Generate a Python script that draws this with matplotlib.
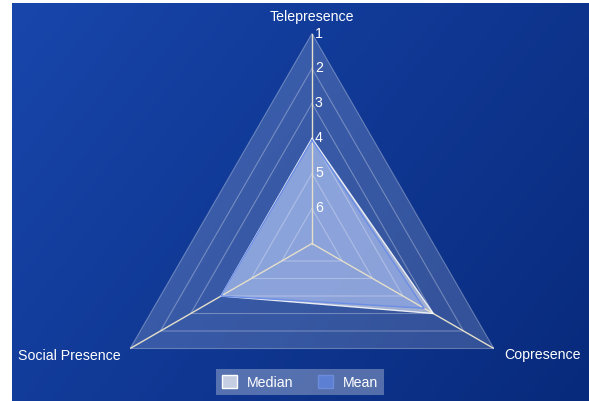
import numpy as np
import matplotlib.pyplot as plt
from matplotlib.patches import Patch
from matplotlib.colors import to_rgb

plt.rcParams['font.family'] = ['Liberation Sans', 'DejaVu Sans']

# radar data, scale runs 1 (outer) .. 7 (centre)
axis_names = ['Telepresence', 'Copresence', 'Social Presence']
median = [4, 3, 4]
mean = [4.05, 3.3, 4.0]
levels = [1, 2, 3, 4, 5, 6]

W, H = 589, 402
fig = plt.figure(figsize=(W / 100, H / 100), dpi=100)
fig.patch.set_facecolor('white')

# diagonal blue gradient behind the chart
bg = fig.add_axes([12 / W, 0, (W - 12) / W, (H - 4) / H])
gx, gy = np.meshgrid(np.linspace(0, 1, 300), np.linspace(0, 1, 200))
t = (gx * 0.65 + gy * 0.35)[..., None]
c0 = np.array(to_rgb('#1846ab'))
c1 = np.array(to_rgb('#082a7c'))
bg.imshow(c0 * (1 - t) + c1 * t, aspect='auto', extent=[0, 1, 0, 1])
bg.axis('off')

# polar axes centred on the radar
cx, cy, R = 312, 244.5, 210
ax = fig.add_axes([(cx - R) / W, (H - cy - R) / H, 2 * R / W, 2 * R / H],
                  projection='polar')
ax.set_theta_offset(np.pi / 2)
ax.set_theta_direction(-1)
ax.set_ylim(7, 1)
ax.axis('off')

theta = np.arange(len(axis_names)) * 2 * np.pi / len(axis_names)
tc = np.append(theta, theta[0])

def closed(v):
    return list(v) + [v[0]]

# plot area and triangular grid
ax.fill(tc, [1] * 4, color='white', alpha=0.17, lw=0)
for lv in levels:
    ax.plot(tc, [lv] * 4, color='white', alpha=0.3, lw=0.8)
for th in theta:
    ax.plot([th, th], [7, 1], color='#e4dfca', lw=1)

# data series
ax.fill(tc, closed(median), color='#e4e8f2', alpha=0.62, lw=0)
ax.plot(tc, closed(median), color='white', alpha=0.85, lw=1)
ax.fill(tc, closed(mean), color='#6a8ee6', alpha=0.4, lw=0)
ax.plot(tc, closed(mean), color='#6c8ee6', lw=1)

# radial tick labels
for lv in levels:
    ax.annotate(str(lv), xy=(0, lv), xytext=(3, 1), textcoords='offset pixels',
                color='white', fontsize=10.2, ha='left', va='center')

# axis names
offsets = [(0, 17, 'center'), (10, -6, 'left'), (-10, -6, 'right')]
for name, th, (dx, dy, ha) in zip(axis_names, theta, offsets):
    ax.annotate(name, xy=(th, 1), xytext=(dx, dy), textcoords='offset pixels',
                color='white', fontsize=10.2, ha=ha, va='center',
                annotation_clip=False)

handles = [Patch(facecolor='#c5cde3', edgecolor='white', label='Median'),
           Patch(facecolor='#5c7fd4', edgecolor='#6d8bd8', label='Mean')]
leg = fig.legend(handles=handles, loc='center',
                 bbox_to_anchor=(300 / W, (H - 383) / H), ncol=2,
                 frameon=True, fancybox=False, fontsize=10.2,
                 handlelength=1.1, handleheight=1.1, columnspacing=1.7,
                 handletextpad=0.7, borderpad=0.4, labelcolor='white')
leg.get_frame().set_facecolor('white')
leg.get_frame().set_alpha(0.3)
leg.get_frame().set_linewidth(0)

fig.savefig('out.png', dpi=100)
